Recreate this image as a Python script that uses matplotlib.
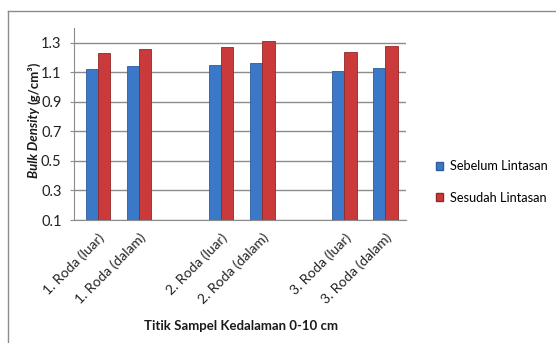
import numpy as np
import matplotlib.pyplot as plt
from matplotlib.lines import Line2D
from matplotlib.patches import Patch

plt.rcParams['font.family'] = ['Lato', 'DejaVu Sans']

# sample points (blank slots separate the three wheel groups)
labels = ["1. Roda (luar)", "1. Roda (dalam)", "",
          "2. Roda (luar)", "2. Roda (dalam)", "",
          "3. Roda (luar)", "3. Roda (dalam)"]
sebelum = [1.12, 1.14, np.nan, 1.15, 1.16, np.nan, 1.11, 1.13]
sesudah = [1.23, 1.26, np.nan, 1.27, 1.31, np.nan, 1.24, 1.28]
yticks = [0.1, 0.3, 0.5, 0.7, 0.9, 1.1, 1.3]

blue = "#3b78c7"
red = "#cb3a3a"

fig = plt.figure(figsize=(5.56, 3.43), dpi=100)
ax = fig.add_axes([74 / 556, 1 - 220 / 343, 332 / 556, 192 / 343])

x = np.arange(len(labels))
w = 0.3
ax.bar(x - w / 2, np.array(sebelum) - 0.1, w, bottom=0.1, color=blue,
       edgecolor="#2b5c9c", linewidth=0.6, zorder=3)
ax.bar(x + w / 2, np.array(sesudah) - 0.1, w, bottom=0.1, color=red,
       edgecolor="#922828", linewidth=0.6, zorder=3)

ax.set_ylim(0.1, 1.4)
ax.set_xlim(-0.58, 7.5)
ax.set_yticks(yticks)
ax.set_yticklabels([f"{v:.1f}" for v in yticks], fontsize=10.5,
                   color="#222222")
ax.yaxis.grid(True, color="#8c8c8c", linewidth=1, zorder=0)
ax.set_axisbelow(True)

ticks = [i for i, l in enumerate(labels) if l]
ax.set_xticks(ticks)
ax.set_xticklabels([labels[i] for i in ticks], rotation=45, ha="right",
                   rotation_mode="anchor", fontsize=10, color="#222222")
ax.tick_params(axis="x", length=0, pad=8)
ax.tick_params(axis="y", length=3, color="#8c8c8c", pad=6)

for s in ["top", "right"]:
    ax.spines[s].set_visible(False)
for s in ["left", "bottom"]:
    ax.spines[s].set_color("#8c8c8c")

fig.text(241 / 556, 1 - 326 / 343, "Titik Sampel Kedalaman 0-10 cm",
         ha="center", va="center", fontsize=9.5, fontweight="bold",
         color="#1a1a1a")

# y label: italic name + upright units
renderer = fig.canvas.get_renderer()
yl_x = 34 / 556
t1 = fig.text(yl_x, 0, "Bulk Density ", rotation=90, ha="center",
              va="bottom", fontsize=9.5, fontweight="bold", style="italic",
              color="#1a1a1a")
t2 = fig.text(yl_x, 0, "(g/cm³)", rotation=90, ha="center", va="bottom",
              fontsize=9.5, fontweight="bold", color="#1a1a1a")
h1 = t1.get_window_extent(renderer).height
h2 = t2.get_window_extent(renderer).height
y0 = 1 - (120 + (h1 + h2) / 2) / 343
t1.set_y(y0)
t2.set_y(y0 + h1 / 343)

handles = [Patch(facecolor=blue, edgecolor="#2b5c9c"),
           Patch(facecolor=red, edgecolor="#922828")]
fig.legend(handles, ["Sebelum Lintasan", "Sesudah Lintasan"],
           loc="center left", bbox_to_anchor=(424 / 556, 1 - 182 / 343),
           frameon=False, fontsize=9.2, handlelength=0.6, handleheight=0.6,
           handletextpad=0.5, labelspacing=1.5)

# outer chart frame
fig.add_artist(Line2D([8 / 556, 1], [1 - 11 / 343] * 2, color="#8c8c8c",
                      linewidth=1, transform=fig.transFigure))
fig.add_artist(Line2D([8 / 556] * 2, [0, 1 - 11 / 343], color="#8c8c8c",
                      linewidth=1, transform=fig.transFigure))

fig.savefig("out.png", dpi=100)
